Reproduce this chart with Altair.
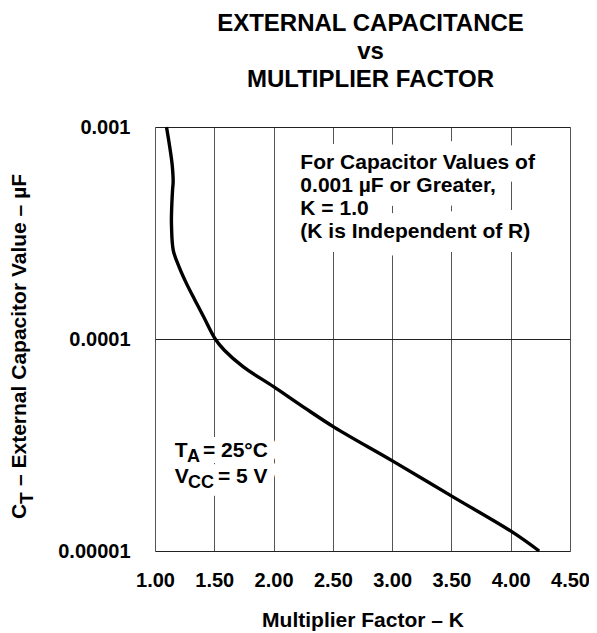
import altair as alt
import pandas as pd

FONT = "Liberation Sans"

# ---- data ----
k_values = [1.097, 1.126, 1.145, 1.153, 1.148, 1.139, 1.139, 1.154, 1.203, 1.265,
            1.338, 1.411, 1.508, 1.585, 1.745, 2.0, 2.256, 2.513, 3.013,
            3.513, 4.012, 4.24]
c_values = [1.0e-3, 7.94e-4, 6.62e-4, 5.52e-4, 5.05e-4, 3.85e-4, 3.45e-4, 2.62e-4,
            2.19e-4, 1.83e-4, 1.52e-4, 1.27e-4, 1.0e-4, 8.85e-5, 7.39e-5, 5.96e-5,
            4.76e-5, 3.83e-5, 2.64e-5, 1.80e-5, 1.23e-5, 1.0e-5]

x_ticks = [1.0, 1.5, 2.0, 2.5, 3.0, 3.5, 4.0, 4.5]
y_ticks = [1e-5, 1e-4, 1e-3]

title_lines = ["EXTERNAL CAPACITANCE", "vs", "MULTIPLIER FACTOR"]
x_title = "Multiplier Factor \u2013 K"
y_title_parts = ["C", "T", "\u2013 External Capacitor Value \u2013 \u00b5F"]

note_text = ["For Capacitor Values of\n0.001 \u00b5F or Greater,\nK = 1.0\n(K is Independent of R)"]
note_k = [2.226]
note_c = [6.37e-4]

cond_text = ["T", "= 25\u00b0C", "V", "= 5 V"]
cond_k = [1.167, 1.404, 1.167, 1.531]
cond_c = [2.79e-5, 2.79e-5, 2.09e-5, 2.09e-5]
sub_text = ["A", "CC"]
sub_k = [1.270, 1.278]
sub_c = [2.79e-5, 2.09e-5]

curve = pd.DataFrame({"K": k_values, "C": c_values, "i": list(range(len(k_values)))})
note_df = pd.DataFrame({"K": note_k, "C": note_c, "t": note_text})
cond_df = pd.DataFrame({"K": cond_k, "C": cond_c, "t": cond_text})
sub_df = pd.DataFrame({"K": sub_k, "C": sub_c, "t": sub_text})

x_scale = alt.Scale(domain=[1.0, 4.5], nice=False, zero=False)
y_scale = alt.Scale(type="log", domain=[1e-5, 1e-3], nice=False)

x_enc = alt.X("K:Q", scale=x_scale, axis=alt.Axis(
    values=x_ticks, format=".2f", title=x_title, grid=True, gridColor="#555555",
    gridWidth=1, ticks=False, domain=False, labelFlush=False, labelOverlap=False,
    labelFont=FONT, labelFontSize=20,
    labelFontWeight="bold", labelColor="black", labelPadding=19, titleFont=FONT,
    titleFontSize=21, titleFontWeight="bold", titleColor="black", titlePadding=19))
y_enc = alt.Y("C:Q", scale=y_scale, axis=alt.Axis(
    values=y_ticks, format=".5~f", title="", grid=True, gridColor="#222222",
    gridWidth=1, ticks=False, domain=False, labelFlush=False, labelOverlap=False,
    labelFont=FONT, labelFontSize=20,
    labelFontWeight="bold", labelColor="black", labelPadding=25))

line = alt.Chart(curve).mark_line(color="black", strokeWidth=3.4,
                                  interpolate="catmull-rom").encode(
    x=x_enc, y=y_enc, order="i:Q")


def text_layer(df, size=21, dy=0, halo=0, **kw):
    base = alt.Chart(df)
    style = dict(font=FONT, fontSize=size, fontWeight="bold", align="left",
                 baseline="alphabetic", dy=dy, **kw)
    if halo:
        mark = base.mark_text(fill="white", stroke="white", strokeWidth=halo,
                              strokeJoin="round", **style)
    else:
        mark = base.mark_text(color="black", **style)
    return mark.encode(x=alt.X("K:Q", scale=x_scale), y=alt.Y("C:Q", scale=y_scale),
                       text="t:N")


note_halo = text_layer(note_df, halo=28, lineBreak="\n", lineHeight=23.3)
note_txt = text_layer(note_df, lineBreak="\n", lineHeight=23.3)
cond_halo = text_layer(cond_df, halo=18)
sub_halo = text_layer(sub_df, size=18, dy=5, halo=18)
cond_txt = text_layer(cond_df)
sub_txt = text_layer(sub_df, size=18, dy=5)

# rotated y-axis title with subscript T
ytitle_base = alt.Chart(pd.DataFrame({"t": [0]}))


def ytitle_piece(txt, size, xpix, ypix):
    return ytitle_base.mark_text(text=txt, font=FONT, fontSize=size, fontWeight="bold",
                                 angle=270, align="left", baseline="alphabetic",
                                 color="black").encode(x=alt.value(xpix), y=alt.value(ypix))


yt_c = ytitle_piece(y_title_parts[0], 21, -129, 392)
yt_t = ytitle_piece(y_title_parts[1], 19, -122, 377)
yt_main = ytitle_piece(y_title_parts[2], 21, -129, 359)

chart = alt.layer(
    line, note_halo, note_txt, cond_halo, sub_halo, cond_txt, sub_txt, yt_c, yt_t, yt_main
).properties(
    width=415, height=424,
    title=alt.TitleParams(title_lines, font=FONT, fontSize=24, fontWeight="bold",
                          color="black", lineHeight=28, anchor="middle", frame="group",
                          dx=8, offset=25),
    autosize=alt.AutoSizeParams(type="none"),
    padding={"left": 147, "top": 119, "right": 19, "bottom": 80},
).configure_view(stroke="black", strokeWidth=1.5).configure(background="white")

chart.save("out.html", embed_options={"renderer": "svg", "actions": False})
